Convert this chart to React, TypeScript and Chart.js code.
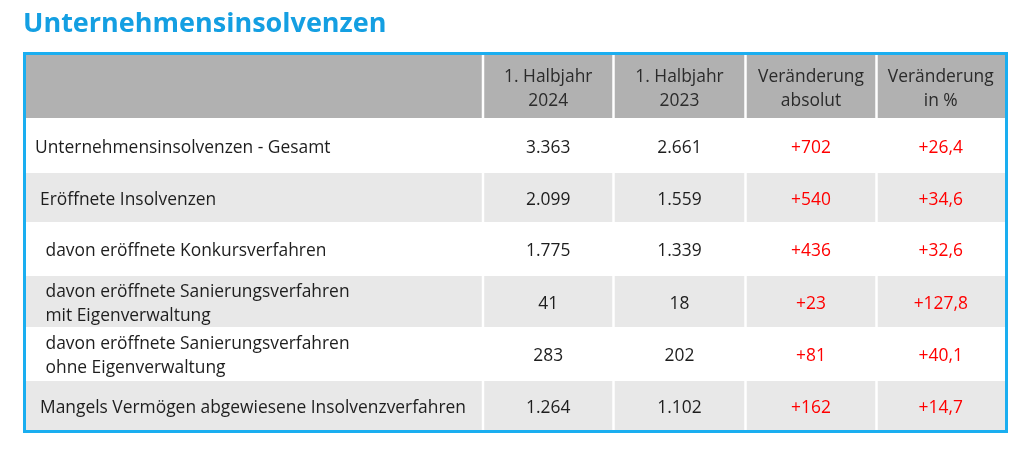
import React, { useEffect, useRef } from 'react';
import { Chart, registerables } from 'chart.js';

Chart.register(...registerables);

// ---- data ----
const titleText = 'Unternehmensinsolvenzen';
const headerLabels: string[][] = [
  [''],
  ['1. Halbjahr', '2024'],
  ['1. Halbjahr', '2023'],
  ['Veränderung', 'absolut'],
  ['Veränderung', 'in %'],
];
const rowLabels: string[][] = [
  ['Unternehmensinsolvenzen - Gesamt'],
  ['Eröffnete Insolvenzen'],
  ['davon eröffnete Konkursverfahren'],
  ['davon eröffnete Sanierungsverfahren', 'mit Eigenverwaltung'],
  ['davon eröffnete Sanierungsverfahren', 'ohne Eigenverwaltung'],
  ['Mangels Vermögen abgewiesene Insolvenzverfahren'],
];
const values2024 = [3363, 2099, 1775, 41, 283, 1264];
const values2023 = [2661, 1559, 1339, 18, 202, 1102];
const changeAbsolute = [702, 540, 436, 23, 81, 162];
const changePercent = [26.4, 34.6, 32.6, 127.8, 40.1, 14.7];

// ---- layout (scale units) ----
const colEdges = [0, 457, 587.5, 719.5, 850.5, 979];
const rowHeights = [63, 55, 49, 54, 51, 54, 49];
const labelIndent = [9, 14, 19.5, 19.5, 19.5, 14];
const cellGap = 2.5;
const lineSpacing = 24;
const textShift = 2.5;

const fmtInt = (n: number) => String(n).replace(/\B(?=(\d{3})+(?!\d))/g, '.');
const fmtDec = (n: number) => n.toFixed(1).replace('.', ',');

const tablePlugin = {
  id: 'tablePlugin',
  beforeDatasetsDraw(chart: any) {
    const { ctx, chartArea } = chart;
    const xs = chart.scales.x;
    const ys = chart.scales.y;
    const rowEdges = [0];
    rowHeights.forEach((h) => rowEdges.push(rowEdges[rowEdges.length - 1] + h));
    ctx.save();
    // title
    ctx.font = 'bold 27px "Open Sans"';
    ctx.fillStyle = '#149fe2';
    ctx.textAlign = 'left';
    ctx.textBaseline = 'alphabetic';
    ctx.fillText(titleText, chartArea.left - 3, chartArea.top - 23);
    // backgrounds
    for (let r = 0; r < rowHeights.length; r++) {
      const y0 = ys.getPixelForValue(rowEdges[r]);
      const y1 = ys.getPixelForValue(rowEdges[r + 1]);
      const fill = r === 0 ? '#b1b1b1' : r % 2 === 0 ? '#e8e8e8' : null;
      if (!fill) continue;
      ctx.fillStyle = fill;
      for (let c = 0; c < colEdges.length - 1; c++) {
        const x0 = xs.getPixelForValue(colEdges[c]) + (c > 0 ? cellGap / 2 : 0);
        const x1 = xs.getPixelForValue(colEdges[c + 1]) - (c < colEdges.length - 2 ? cellGap / 2 : 0);
        ctx.fillRect(x0, y0, x1 - x0, y1 - y0);
      }
    }
    // text
    ctx.font = '17.4px "Open Sans"';
    ctx.textBaseline = 'middle';
    const drawLines = (lines: string[], x: number, yc: number) => {
      const n = lines.length;
      lines.forEach((t, i) => {
        ctx.fillText(t, x, yc + textShift + (i - (n - 1) / 2) * lineSpacing);
      });
    };
    const centerX = (c: number) => (xs.getPixelForValue(colEdges[c]) + xs.getPixelForValue(colEdges[c + 1])) / 2;
    const centerY = (r: number) => (ys.getPixelForValue(rowEdges[r]) + ys.getPixelForValue(rowEdges[r + 1])) / 2;
    // header
    ctx.fillStyle = '#2b2b2b';
    ctx.textAlign = 'center';
    headerLabels.forEach((lines, c) => drawLines(lines, centerX(c), centerY(0)));
    // body
    rowLabels.forEach((lines, i) => {
      const r = i + 1;
      const yc = centerY(r);
      ctx.textAlign = 'left';
      ctx.fillStyle = '#1e1e1e';
      drawLines(lines, xs.getPixelForValue(labelIndent[i]), yc);
      ctx.textAlign = 'center';
      drawLines([fmtInt(values2024[i])], centerX(1), yc);
      drawLines([fmtInt(values2023[i])], centerX(2), yc);
      ctx.fillStyle = '#ff0000';
      drawLines(['+' + fmtInt(changeAbsolute[i])], centerX(3), yc);
      drawLines(['+' + fmtDec(changePercent[i])], centerX(4), yc);
    });
    // border
    ctx.strokeStyle = '#1aaef0';
    ctx.lineWidth = 3;
    ctx.strokeRect(
      chartArea.left - 1.5,
      chartArea.top - 1.5,
      chartArea.right - chartArea.left + 3,
      chartArea.bottom - chartArea.top + 3
    );
    ctx.restore();
  },
};

export default function App() {
  const canvasRef = useRef<HTMLCanvasElement | null>(null);
  useEffect(() => {
    document.body.style.margin = '0';
    const total = rowHeights.reduce((a, b) => a + b, 0);
    const chart = new Chart(canvasRef.current as HTMLCanvasElement, {
      type: 'scatter',
      data: { datasets: [{ data: [] }] },
      options: {
        animation: false,
        responsive: true,
        maintainAspectRatio: false,
        layout: { padding: { left: 26, right: 19, top: 55, bottom: 23 } },
        scales: {
          x: { type: 'linear', display: false, min: colEdges[0], max: colEdges[colEdges.length - 1] },
          y: { type: 'linear', display: false, min: 0, max: total, reverse: true },
        },
        plugins: {
          legend: { display: false },
          tooltip: { enabled: false },
          title: { display: false },
        },
      } as any,
      plugins: [tablePlugin],
    });
    return () => chart.destroy();
  }, []);
  return (
    <div style={{ position: 'fixed', left: 0, top: 0, width: 1024, height: 453, background: '#fff' }}>
      <canvas ref={canvasRef} />
    </div>
  );
}
